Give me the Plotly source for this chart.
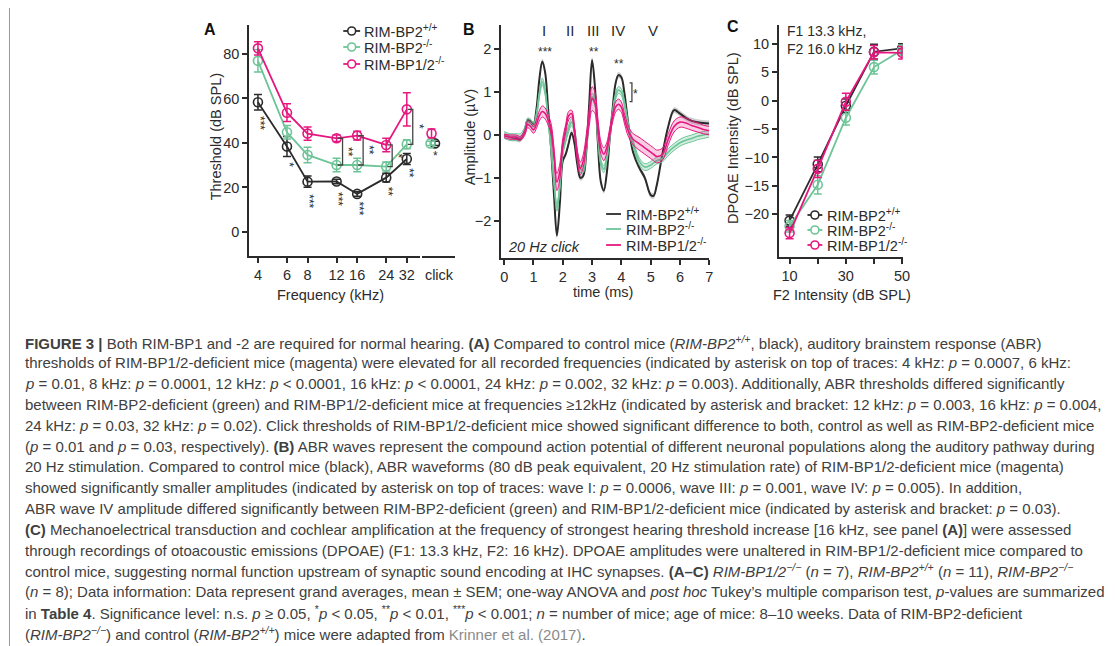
import math
import plotly.graph_objects as go

# the page body has an 8px margin, so the figure is placed at (8, 8)
OFF = 8
W, H = 1115 - OFF, 646 - OFF
def px(x): return (x - OFF) / W
def py(y): return 1 - (y - OFF) / H

FONT = "Liberation Sans, Arial, Helvetica, sans-serif"
INK = "#2b2b2b"
CAP = "#404040"
C_WT = "#2b2b2b"
C_KO2 = "#6dc497"
C_DKO = "#e6187f"

# ---------------- Panel A: ABR thresholds ----------------
freq_khz = [4, 6, 8, 12, 16, 24, 32]
freq_ticklabels = ["4", "6", "8", "12", "16", "24", "32"]
thr_wt = [58.3, 38.4, 22.6, 22.7, 17.1, 24.4, 32.8]
thr_wt_sem = [3.5, 4.5, 2.5, 1.0, 1.0, 2.0, 2.5]
thr_ko2 = [76.9, 44.8, 34.6, 30.1, 30.1, 29.4, 39.4]
thr_ko2_sem = [5.0, 3.0, 3.5, 3.0, 3.0, 2.0, 2.0]
thr_dko = [82.5, 53.6, 44.2, 42.1, 43.3, 39.1, 55.1]
thr_dko_sem = [3.0, 4.0, 3.0, 1.5, 2.0, 3.0, 7.5]
click_wt, click_wt_sem = 39.8, 1.0
click_ko2, click_ko2_sem = 39.8, 1.0
click_dko, click_dko_sem = 44.3, 2.0
stars_a = ["***", "*", "***", "***", "***", "**", "**"]
stars_a_y = [49, 30, 14, 15, 10.5, 18, 26.5]
click_star, click_star_y = "*", 34
bracket_freqs = [12, 16, 24, 32]
bracket_labels = ["**", "**", "*", "*"]

# ---------------- Panel B: ABR waveforms ----------------
time_ms = [0, 0.2, 0.4, 0.55, 0.7, 0.8, 0.9, 1.0, 1.1, 1.2, 1.3, 1.4, 1.5, 1.6,
           1.7, 1.8, 1.9, 2.0, 2.1, 2.2, 2.3, 2.4, 2.5, 2.6, 2.7, 2.8, 2.9, 3.0,
           3.1, 3.2, 3.3, 3.4, 3.5, 3.6, 3.7, 3.8, 3.9, 4.0, 4.1, 4.2, 4.3, 4.4,
           4.6, 4.8, 5.0, 5.1, 5.2, 5.4, 5.6, 5.8, 6.0, 6.2, 6.4, 6.6, 6.8, 7.0]
amp_wt = [0.0, -0.05, -0.08, -0.1, 0.1, 0.35, 0.32, 0.25, 0.6, 1.3, 1.72, 1.45,
          0.6, -0.3, -1.4, -2.35, -1.6, -0.6, -0.45, -0.2, 0.05, -0.2, -0.7, -1.0,
          -0.95, -0.4, 0.7, 1.75, 1.1, -0.2, -1.1, -1.3, -0.9, -0.1, 0.6, 1.2,
          1.4, 1.35, 1.0, 0.45, -0.05, -0.4, -0.75, -1.0, -1.4, -1.42, -1.2,
          -0.45, 0.2, 0.58, 0.5, 0.4, 0.33, 0.3, 0.28, 0.27]
amp_ko2 = [0.0, -0.05, -0.05, -0.05, 0.1, 0.3, 0.28, 0.2, 0.45, 0.95, 1.25, 1.0,
           0.35, -0.3, -1.1, -1.7, -1.2, -0.4, -0.1, 0.15, 0.3, 0.1, -0.45, -0.8,
           -0.8, -0.3, 0.4, 0.9, 0.75, -0.05, -0.65, -0.8, -0.55, -0.05, 0.5, 0.9,
           1.05, 1.0, 0.75, 0.35, 0.0, -0.2, -0.6, -0.75, -0.7, -0.65, -0.6,
           -0.55, -0.4, -0.28, -0.18, -0.12, -0.08, -0.03, 0.0, 0.03]
amp_dko = [-0.02, -0.05, -0.05, -0.08, 0.05, 0.25, 0.2, 0.12, 0.25, 0.45, 0.55,
           0.5, 0.35, 0.15, -0.45, -1.1, -0.85, -0.2, 0.15, 0.45, 0.5, 0.1, -0.5,
           -0.78, -0.6, -0.15, 0.4, 0.85, 0.75, 0.2, -0.3, -0.45, -0.3, 0.05, 0.4,
           0.65, 0.72, 0.65, 0.4, 0.15, 0.0, -0.1, -0.2, -0.3, -0.4, -0.45, -0.5,
           -0.45, -0.1, 0.2, 0.3, 0.28, 0.22, 0.18, 0.13, 0.1]
sem_dko = [0.04, 0.05, 0.05, 0.05, 0.06, 0.08, 0.08, 0.08, 0.1, 0.12, 0.13, 0.13,
           0.12, 0.12, 0.15, 0.2, 0.18, 0.12, 0.1, 0.1, 0.08, 0.1, 0.12, 0.15,
           0.15, 0.15, 0.2, 0.28, 0.25, 0.18, 0.15, 0.15, 0.12, 0.1, 0.1, 0.12,
           0.12, 0.12, 0.12, 0.12, 0.12, 0.13, 0.15, 0.15, 0.15, 0.15, 0.15, 0.14,
           0.13, 0.13, 0.12, 0.12, 0.11, 0.11, 0.1, 0.1]
sem_wt = 0.07
sem_ko2 = 0.08
wave_names = ["I", "II", "III", "IV", "V"]
wave_t = [1.35, 2.24, 3.05, 3.9, 5.07]
wave_stars = ["***", "**", "**"]
wave_star_t = [1.38, 3.06, 3.92]
wave_star_amp = [1.95, 1.95, 1.67]

# ---------------- Panel C: DPOAE ----------------
f2_db = [10, 20, 30, 40, 50]
dp_wt = [-21.1, -11.2, -0.9, 8.6, 9.2]
dp_wt_sem = [1.0, 1.3, 1.2, 1.3, 0.8]
dp_ko2 = [-22.1, -14.8, -3.0, 5.9, 8.9]
dp_ko2_sem = [1.0, 1.6, 1.3, 1.2, 0.9]
dp_dko = [-23.3, -12.0, -0.2, 8.5, 8.4]
dp_dko_sem = [1.0, 1.5, 1.5, 1.2, 1.1]

series_names = ["RIM-BP2<sup>+/+</sup>", "RIM-BP2<sup>-/-</sup>", "RIM-BP1/2<sup>-/-</sup>"]
series_colors = [C_WT, C_KO2, C_DKO]

caption_lines = [
    "<b>FIGURE 3 |</b> Both RIM-BP1 and -2 are required for normal hearing. <b>(A)</b> Compared to control mice (<i>RIM-BP2<sup>+/+</sup></i>, black), auditory brainstem response (ABR)",
    "thresholds of RIM-BP1/2-deficient mice (magenta) were elevated for all recorded frequencies (indicated by asterisk on top of traces: 4 kHz: <i>p</i> = 0.0007, 6 kHz:",
    "<i>p</i> = 0.01, 8 kHz: <i>p</i> = 0.0001, 12 kHz: <i>p</i> &lt; 0.0001, 16 kHz: <i>p</i> &lt; 0.0001, 24 kHz: <i>p</i> = 0.002, 32 kHz: <i>p</i> = 0.003). Additionally, ABR thresholds differed significantly",
    "between RIM-BP2-deficient (green) and RIM-BP1/2-deficient mice at frequencies ≥12kHz (indicated by asterisk and bracket: 12 kHz: <i>p</i> = 0.003, 16 kHz: <i>p</i> = 0.004,",
    "24 kHz: <i>p</i> = 0.03, 32 kHz: <i>p</i> = 0.02). Click thresholds of RIM-BP1/2-deficient mice showed significant difference to both, control as well as RIM-BP2-deficient mice",
    "(<i>p</i> = 0.01 and <i>p</i> = 0.03, respectively). <b>(B)</b> ABR waves represent the compound action potential of different neuronal populations along the auditory pathway during",
    "20 Hz stimulation. Compared to control mice (black), ABR waveforms (80 dB peak equivalent, 20 Hz stimulation rate) of RIM-BP1/2-deficient mice (magenta)",
    "showed significantly smaller amplitudes (indicated by asterisk on top of traces: wave I: <i>p</i> = 0.0006, wave III: <i>p</i> = 0.001, wave IV: <i>p</i> = 0.005). In addition,",
    "ABR wave IV amplitude differed significantly between RIM-BP2-deficient (green) and RIM-BP1/2-deficient mice (indicated by asterisk and bracket: <i>p</i> = 0.03).",
    "<b>(C)</b> Mechanoelectrical transduction and cochlear amplification at the frequency of strongest hearing threshold increase [16 kHz, see panel <b>(A)</b>] were assessed",
    "through recordings of otoacoustic emissions (DPOAE) (F1: 13.3 kHz, F2: 16 kHz). DPOAE amplitudes were unaltered in RIM-BP1/2-deficient mice compared to",
    "control mice, suggesting normal function upstream of synaptic sound encoding at IHC synapses. <b>(A–C)</b> <i>RIM-BP1/2<sup>−/−</sup></i> (<i>n</i> = 7), <i>RIM-BP2<sup>+/+</sup></i> (<i>n</i> = 11), <i>RIM-BP2<sup>−/−</sup></i>",
    "(<i>n</i> = 8); Data information: Data represent grand averages, mean ± SEM; one-way ANOVA and <i>post hoc</i> Tukey’s multiple comparison test, <i>p</i>-values are summarized",
    "in <b>Table 4</b>. Significance level: n.s. <i>p</i> ≥ 0.05, <sup>*</sup><i>p</i> &lt; 0.05, <sup>**</sup><i>p</i> &lt; 0.01, <sup>***</sup><i>p</i> &lt; 0.001; <i>n</i> = number of mice; age of mice: 8–10 weeks. Data of RIM-BP2-deficient",
    "(<i>RIM-BP2<sup>−/−</sup></i>) and control (<i>RIM-BP2<sup>+/+</sup></i>) mice were adapted from <span style='color:#8a8a8a'>Krinner et al. (2017)</span>.",
]

fig = go.Figure()

# ---- Panel A traces ----
for vals, sems, col in [(thr_wt, thr_wt_sem, C_WT), (thr_ko2, thr_ko2_sem, C_KO2), (thr_dko, thr_dko_sem, C_DKO)]:
    fig.add_trace(go.Scatter(
        x=freq_khz, y=vals, mode="lines+markers", xaxis="x", yaxis="y",
        line=dict(color=col, width=1.8),
        marker=dict(symbol="circle-open", size=9, color=col, line=dict(width=1.6, color=col)),
        error_y=dict(type="data", array=sems, color=col, thickness=1.5, width=4),
        showlegend=False, hoverinfo="skip"))

click_pos = [13.5, 9, 10]
for xpos, val, sem, col in [(click_pos[0], click_wt, click_wt_sem, C_WT),
                            (click_pos[1], click_ko2, click_ko2_sem, C_KO2),
                            (click_pos[2], click_dko, click_dko_sem, C_DKO)]:
    fig.add_trace(go.Scatter(
        x=[xpos], y=[val], mode="markers", xaxis="x2", yaxis="y",
        marker=dict(symbol="circle-open", size=9, color=col, line=dict(width=1.6, color=col)),
        error_y=dict(type="data", array=[sem], color=col, thickness=1.5, width=4),
        showlegend=False, hoverinfo="skip"))

# brackets (green vs magenta) in panel A
br_off = 10 ** (6 / 166.1)
br_tick = 10 ** (1 / 166.1)
annotations = []
for f, lab in zip(bracket_freqs, bracket_labels):
    i = freq_khz.index(f)
    xb, xl = f * br_off, f * br_tick
    fig.add_trace(go.Scatter(
        x=[xl, xb, xb, xl], y=[thr_dko[i], thr_dko[i], thr_ko2[i], thr_ko2[i]],
        mode="lines", line=dict(color="#444", width=1.3), xaxis="x", yaxis="y",
        showlegend=False, hoverinfo="skip"))
    annotations.append(dict(x=math.log10(f * br_off), y=(thr_dko[i] + thr_ko2[i]) / 2,
                            xref="x", yref="y", text=lab, showarrow=False, textangle=90,
                            xshift=6, xanchor="center", yanchor="middle",
                            font=dict(family=FONT, size=12, color=INK)))

for f, lab, yy in zip(freq_khz, stars_a, stars_a_y):
    annotations.append(dict(x=math.log10(f), y=yy, xref="x", yref="y", text=lab,
                            showarrow=False, textangle=90, xshift=2, xanchor="center", yanchor="middle",
                            font=dict(family=FONT, size=12, color=INK)))
annotations.append(dict(x=click_pos[0], y=click_star_y, xref="x2", yref="y", text=click_star,
                        showarrow=False, xanchor="center", yanchor="middle",
                        font=dict(family=FONT, size=12, color=INK)))

# ---- Panel B traces ----
wt_hi = [a + sem_wt for a in amp_wt]
wt_lo = [a - sem_wt for a in amp_wt]
fig.add_trace(go.Scatter(x=time_ms, y=wt_hi, mode="lines", line=dict(width=0, shape="spline", color="rgba(0,0,0,0)"),
                         xaxis="x3", yaxis="y3", showlegend=False, hoverinfo="skip"))
fig.add_trace(go.Scatter(x=time_ms, y=wt_lo, mode="lines", line=dict(width=0, shape="spline", color="rgba(0,0,0,0)"),
                         fill="tonexty", fillcolor="rgba(150,150,150,0.45)",
                         xaxis="x3", yaxis="y3", showlegend=False, hoverinfo="skip"))
fig.add_trace(go.Scatter(x=time_ms, y=amp_wt, mode="lines", line=dict(width=2, shape="spline", color=C_WT),
                         xaxis="x3", yaxis="y3", showlegend=False, hoverinfo="skip"))

for amps, sems, col, fillc in [(amp_ko2, [sem_ko2] * len(amp_ko2), C_KO2, "rgba(109,196,151,0.30)"),
                               (amp_dko, sem_dko, C_DKO, "rgba(230,24,127,0.22)")]:
    hi = [a + s for a, s in zip(amps, sems)]
    lo = [a - s for a, s in zip(amps, sems)]
    fig.add_trace(go.Scatter(x=time_ms, y=hi, mode="lines", line=dict(width=1, shape="spline", color=col),
                             xaxis="x3", yaxis="y3", showlegend=False, hoverinfo="skip"))
    fig.add_trace(go.Scatter(x=time_ms, y=lo, mode="lines", line=dict(width=1, shape="spline", color=col),
                             fill="tonexty", fillcolor=fillc,
                             xaxis="x3", yaxis="y3", showlegend=False, hoverinfo="skip"))
    fig.add_trace(go.Scatter(x=time_ms, y=amps, mode="lines", line=dict(width=1.6, shape="spline", color=col),
                             xaxis="x3", yaxis="y3", showlegend=False, hoverinfo="skip"))

for nm, t in zip(wave_names, wave_t):
    annotations.append(dict(x=t, y=2.43, xref="x3", yref="y3", text=nm, showarrow=False,
                            xanchor="center", yanchor="middle",
                            font=dict(family=FONT, size=15, color=INK)))
for s, t, a in zip(wave_stars, wave_star_t, wave_star_amp):
    annotations.append(dict(x=t, y=a, xref="x3", yref="y3", text=s, showarrow=False,
                            xanchor="center", yanchor="middle",
                            font=dict(family=FONT, size=12, color=INK)))
annotations.append(dict(x=4.47, y=0.95, xref="x3", yref="y3", text="*", showarrow=False,
                        xanchor="center", yanchor="middle",
                        font=dict(family=FONT, size=12, color=INK)))
annotations.append(dict(x=0.06, y=-2.62, xref="x3", yref="y3", text="<i>20 Hz click</i>",
                        showarrow=False, xanchor="left", yanchor="middle",
                        font=dict(family=FONT, size=14.5, color=INK)))

# ---- Panel C traces ----
for vals, sems, col in [(dp_wt, dp_wt_sem, C_WT), (dp_ko2, dp_ko2_sem, C_KO2), (dp_dko, dp_dko_sem, C_DKO)]:
    fig.add_trace(go.Scatter(
        x=f2_db, y=vals, mode="lines+markers", xaxis="x4", yaxis="y4",
        line=dict(color=col, width=1.8),
        marker=dict(symbol="circle-open", size=9, color=col, line=dict(width=1.6, color=col)),
        error_y=dict(type="data", array=sems, color=col, thickness=1.5, width=4),
        showlegend=False, hoverinfo="skip"))
annotations.append(dict(x=px(790), y=py(21), xref="paper", yref="paper", xanchor="left", yanchor="top",
                        align="left", text="F1 13.3 kHz,<br>F2 16.0 kHz", showarrow=False,
                        font=dict(family=FONT, size=14, color=INK)))

# ---- shapes ----
shapes = [
    dict(type="line", xref="paper", yref="paper", x0=px(8.5), x1=px(8.5), y0=-0.02, y1=1.02,
         line=dict(color="#9a9a9a", width=1)),
    # bracket wave IV (panel B)
    dict(type="path", xref="x3", yref="y3", path="M 4.28,1.22 L 4.36,1.22 L 4.36,0.78 L 4.28,0.78",
         line=dict(color="#444", width=1.3)),
]

# ---- manual legends ----
def legend(x0, x1, xt, ys, with_marker):
    for nm, col, yy in zip(series_names, series_colors, ys):
        shapes.append(dict(type="line", xref="paper", yref="paper", x0=px(x0), x1=px(x1),
                           y0=py(yy), y1=py(yy), line=dict(color=col, width=1.8)))
        if with_marker:
            c = (x0 + x1) / 2
            shapes.append(dict(type="circle", xref="paper", yref="paper", x0=px(c - 4), x1=px(c + 4),
                               y0=py(yy + 4), y1=py(yy - 4), fillcolor="white",
                               line=dict(color=col, width=1.6)))
        annotations.append(dict(x=px(xt), y=py(yy), xref="paper", yref="paper", xanchor="left",
                                yanchor="middle", text=nm, showarrow=False,
                                font=dict(family=FONT, size=14.5, color=INK)))

legend(345, 362, 364, [31, 47, 64], True)
legend(610, 625, 628, [214, 229, 245], False)
legend(813, 828, 831, [215, 230, 245], True)

# ---- panel letters & axis titles ----
for lab, x, y in [("A", 211, 30), ("B", 472, 30), ("C", 738, 26)]:
    annotations.append(dict(x=px(x), y=py(y), xref="paper", yref="paper", text=f"<b>{lab}</b>",
                            xanchor="center", yanchor="middle",
                            showarrow=False, font=dict(family=FONT, size=16, color="#111")))
for txt, x, y, ang in [("Threshold (dB SPL)", 217, 137, -90), ("Frequency (kHz)", 332, 295, 0),
                       ("Amplitude (µV)", 473, 137, -90), ("time (ms)", 607, 292, 0),
                       ("DPOAE Intensity (dB SPL)", 738, 138, -90), ("F2 Intensity (dB SPL)", 848, 295, 0)]:
    annotations.append(dict(x=px(x), y=py(y), xref="paper", yref="paper", text=txt, textangle=ang,
                            xanchor="center", yanchor="middle",
                            showarrow=False, font=dict(family=FONT, size=14.5, color=INK)))

# ---- caption ----
for i, line in enumerate(caption_lines):
    annotations.append(dict(x=px(22), y=py(342 + i * 20.8), xref="paper", yref="paper",
                            xanchor="left", yanchor="middle", text=line, showarrow=False,
                            font=dict(family=FONT, size=15, color=CAP)))

axc = dict(showline=True, linecolor=INK, linewidth=1.5, ticks="outside", ticklen=5, tickwidth=1.5,
           tickcolor=INK, showgrid=False, zeroline=False,
           tickfont=dict(family=FONT, size=14.5, color=INK))

fig.update_layout(
    width=W, height=H, margin=dict(l=0, r=0, t=0, b=0),
    paper_bgcolor="white", plot_bgcolor="white", showlegend=False,
    xaxis=dict(domain=[px(250), px(422)], type="log", range=[0.548, 1.583],
               tickvals=freq_khz, ticktext=freq_ticklabels, anchor="y", **axc),
    xaxis2=dict(domain=[px(424), px(458)], range=[0, 34], tickvals=[17.5], ticktext=["click"],
                anchor="y", **{**axc, "tickcolor": "rgba(0,0,0,0)"}),
    yaxis=dict(domain=[py(256), py(25)], range=[-10.8, 93], tickvals=[0, 20, 40, 60, 80], anchor="x", **axc),
    xaxis3=dict(domain=[px(504), px(714)], range=[-0.11, 7.0], tickvals=[0, 1, 2, 3, 4, 5, 6, 7],
                anchor="y3", **axc),
    yaxis3=dict(domain=[py(258), py(25)], range=[-2.874, 2.57], tickvals=[-2, -1, 0, 1, 2], anchor="x3", **axc),
    xaxis4=dict(domain=[px(784), px(909)], range=[6.12, 50.2], tickvals=[10, 20, 30, 40, 50],
                ticktext=["10", "", "30", "", "50"], anchor="y4", **axc),
    yaxis4=dict(domain=[py(257), py(25)], range=[-27.5, 13.3], tickvals=[-20, -15, -10, -5, 0, 5, 10],
                anchor="x4", **axc),
    annotations=annotations, shapes=shapes,
)

fig.write_html("out.html")
